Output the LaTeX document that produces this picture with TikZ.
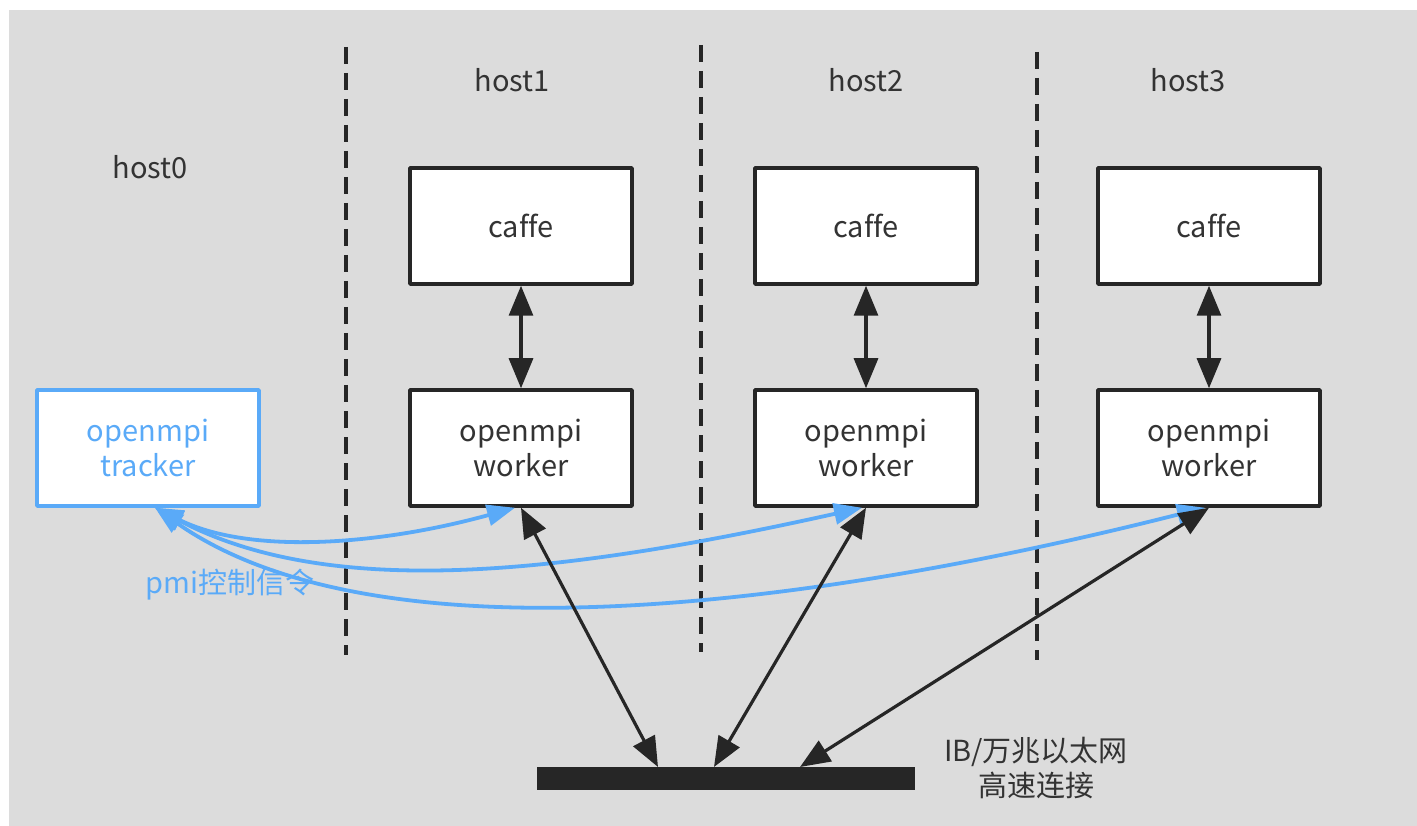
\documentclass[tikz,border=0pt]{standalone}
\usepackage{fontspec}
\setmainfont[Ligatures=NoCommon]{Noto Sans CJK SC}
\usetikzlibrary{arrows.meta}
\definecolor{bggray}{HTML}{DCDCDC}
\definecolor{pmiblue}{HTML}{5AAAF8}
\definecolor{txtgray}{HTML}{333333}
\tikzset{
  hostbox/.style={draw=black!85, line width=3.5pt, fill=white, minimum width=222pt,
    minimum height=116pt, inner sep=0pt, align=center, text=txtgray},
  trackbox/.style={hostbox, draw=pmiblue, text=pmiblue},
  hostlabel/.style={text=txtgray, inner sep=0pt},
  sepline/.style={line width=3.5pt, dash pattern=on 17pt off 9pt, black!85},
  duplex/.style={line width=3.2pt, black!85,
    {Triangle[length=30pt,width=24pt]}-{Triangle[length=30pt,width=24pt]}},
  pmilink/.style={line width=3.8pt, pmiblue,
    {Triangle[length=28pt,width=21pt]}-{Triangle[length=28pt,width=21pt]}},
}
\begin{document}
\begin{tikzpicture}[x=1pt, y=-1pt, font=\fontsize{29}{35}\selectfont, line join=round]
    \useasboundingbox (0,0) rectangle (1417,826);
    \fill[bggray] (9,10) rectangle (1417,826);
    \foreach \x/\ya/\yb in {346/47/655, 701/45/652, 1037/52/660}
        \draw[sepline] (\x,\ya) -- (\x,\yb);
    \node[hostlabel] (h0) at (150,167) {host0};
    \node[trackbox] (tracker) at (148,448) {openmpi\\tracker};
    \foreach \n/\x/\lx in {1/521/512, 2/866/866, 3/1209/1188} {
        \node[hostlabel] (h\n) at (\lx,80) {host\n};
        \node[hostbox] (caffe\n) at (\x,226) {caffe};
        \node[hostbox] (worker\n) at (\x,448) {openmpi\\worker};
        \draw[duplex] (caffe\n) -- (worker\n);
    }
    \node[fill=black!85, minimum width=378pt, minimum height=23pt, inner sep=0pt] (bus) at (726,778.5) {};
    \node[text=txtgray, align=center] (net) at (1036,768) {IB/万兆以太网\\高速连接};
    \node[text=pmiblue, inner sep=0pt] (pmi) at (230,585) {pmi控制信令};
    \coordinate (t0) at ([xshift=7pt]tracker.south);
    \coordinate (b1) at (658,767);
    \coordinate (b2) at (714,767);
    \coordinate (b3) at (800,767);
    \draw[pmilink] (t0) .. controls (250,555) and (380,545) .. ([xshift=-6pt]worker1.south);
    \draw[pmilink] (t0) .. controls (330,600) and (560,575) .. ([xshift=-4pt]worker2.south);
    \draw[pmilink] (t0) .. controls (380,665) and (820,605) .. ([xshift=-4pt]worker3.south);
    \draw[duplex] (worker1.south) -- (b1);
    \draw[duplex] (worker2.south) -- (b2);
    \draw[duplex] (worker3.south) -- (b3);
\end{tikzpicture}
\end{document}
